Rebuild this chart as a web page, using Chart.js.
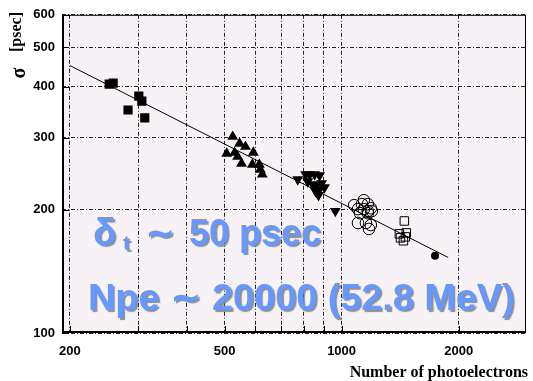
<!DOCTYPE html>
<html><head><meta charset="utf-8">
<script src="https://cdn.jsdelivr.net/npm/chart.js@4/dist/chart.umd.min.js"></script>
<style>html,body{margin:0;padding:0;background:#fff}canvas{display:block}</style>
</head><body>
<canvas id="c" width="533" height="381"></canvas>
<script>
// ---- data ----
const sqFilledX = [252.6, 258.6, 301, 306.4, 282.4, 311.8];
const sqFilledY = [405.9, 408.2, 379.6, 369.1, 351, 335.7];

const triUpX = [524.8, 546.6, 566, 593, 506.6, 530.8, 540.2, 553, 589.6, 614.4, 618, 625.2];
const triUpY = [302, 290.4, 285.5, 276.1, 274.6, 276, 270.1, 259.7, 258.2, 258.2, 251.1, 244.2];

const triDownX = [771.5, 808.7, 827.8, 852.3, 877.6, 818, 842.3, 862.2, 888, 903.6, 857, 872.3, 877.6, 963.4];
const triDownY = [237.5, 244.2, 244.2, 244.2, 242.8, 234.8, 230.9, 229.6, 232.3, 227.1, 222.2, 217.3, 224.6, 198.7];

const circOpenX = [1141, 1128, 1168, 1102, 1141, 1168, 1189, 1115, 1168, 1102, 1155, 1189, 1176, 1196, 1077];
const circOpenY = [211.2, 206.6, 206.6, 200.9, 200.9, 198.7, 201.9, 196.4, 196.4, 185.8, 185.8, 183.7, 179.7, 198.7, 205.4];

const sqOpenX = [1450, 1408, 1467, 1417, 1442, 1459];
const sqOpenY = [187.9, 174.8, 175.7, 170.9, 168.1, 171.8];

const circFilledX = [1739];
const circFilledY = [154.5];

const fitX = [200, 1880];
const fitY = [451, 153];

const xGrid = [200, 300, 400, 500, 600, 700, 800, 900, 1000, 2000];
const xLabels = [200, 500, 1000, 2000];
const yTicks = [100, 200, 300, 400, 500, 600];

const xTitle = 'Number of photoelectrons';
const yTitleSym = 'σ';
const yTitleUnit = '[psec]';
const note1 = ['δ', 't', '∼', '50 psec'];
const note2 = 'Npe ∼ 20000 (52.8 MeV)';

const pts = (xs, ys) => xs.map((x, i) => ({x: x, y: ys[i]}));

const bgPlugin = {
  id: 'bg',
  beforeDraw(chart) {
    const {ctx, chartArea: a} = chart;
    ctx.save();
    ctx.fillStyle = '#f6f2f6';
    ctx.fillRect(a.left, a.top, a.right - a.left, a.bottom - a.top);
    ctx.restore();
  },
  afterDraw(chart) {
    const {ctx, chartArea: a, scales} = chart;
    ctx.save();
    // frame
    ctx.strokeStyle = '#000';
    ctx.lineWidth = 1;
    ctx.strokeRect(a.left + 0.5, a.top + 0.5, a.right - a.left - 1, a.bottom - a.top - 1);
    ctx.lineWidth = 2;
    ctx.beginPath();
    ctx.moveTo(a.left + 1, a.top); ctx.lineTo(a.left + 1, a.bottom);
    ctx.moveTo(a.left, a.bottom - 1); ctx.lineTo(a.right, a.bottom - 1);
    ctx.stroke();
    // ticks
    ctx.lineWidth = 1;
    ctx.beginPath();
    yTicks.forEach(v => {
      const y = Math.round(scales.y.getPixelForValue(v)) + 0.5;
      ctx.moveTo(a.left, y); ctx.lineTo(a.left + 7, y);
    });
    xGrid.forEach(v => {
      const x = Math.round(scales.x.getPixelForValue(v)) + 0.5;
      ctx.moveTo(x, a.bottom); ctx.lineTo(x, a.bottom - 7);
    });
    ctx.stroke();

    // axis titles
    ctx.fillStyle = '#000';
    ctx.font = 'bold 16px "Liberation Serif", "DejaVu Serif", serif';
    ctx.textAlign = 'right';
    ctx.textBaseline = 'alphabetic';
    ctx.fillText(xTitle, 528, 377);
    ctx.save();
    ctx.translate(20, 12);
    ctx.rotate(-Math.PI / 2);
    ctx.textAlign = 'right';
    ctx.textBaseline = 'middle';
    ctx.font = 'bold 16px "Liberation Serif", "DejaVu Serif", serif';
    ctx.fillText(yTitleUnit, 0, -3);
    ctx.font = 'bold 20px "Liberation Serif", "DejaVu Serif", serif';
    ctx.textAlign = 'center';
    ctx.fillText(yTitleSym, -61, 0);
    ctx.restore();

    // annotation texts
    ctx.fillStyle = '#6699ff';
    ctx.shadowColor = 'rgba(110,110,110,0.75)';
    ctx.shadowOffsetX = 2;
    ctx.shadowOffsetY = 2;
    ctx.shadowBlur = 1;
    ctx.textAlign = 'left';
    ctx.textBaseline = 'alphabetic';
    const f = 'bold %spx "Liberation Sans", "DejaVu Sans", sans-serif';
    ctx.font = f.replace('%s', 38);
    ctx.fillText(note1[0], 93, 245);
    ctx.font = f.replace('%s', 21);
    ctx.fillText(note1[1], 123, 250);
    ctx.font = f.replace('%s', 36);
    ctx.fillText(note1[2], 145, 245);
    ctx.fillText(note1[3], 189, 245);
    ctx.font = f.replace('%s', 37.8);
    ctx.fillText(note2, 88, 310);
    ctx.restore();
  }
};

new Chart(document.getElementById('c'), {
  type: 'scatter',
  data: {
    datasets: [
      {data: pts(fitX, fitY), showLine: true, borderColor: '#000', borderWidth: 1, pointRadius: 0, order: 10},
      {data: pts(sqFilledX, sqFilledY), pointStyle: 'rect', pointRadius: 6.5, backgroundColor: '#000', borderColor: '#000', borderWidth: 0},
      {data: pts(triUpX, triUpY), pointStyle: 'triangle', pointRadius: 6.3, backgroundColor: '#000', borderColor: '#000', borderWidth: 0},
      {data: pts(triDownX, triDownY), pointStyle: 'triangle', rotation: 180, pointRadius: 6.3, backgroundColor: '#000', borderColor: '#000', borderWidth: 0},
      {data: pts(circOpenX, circOpenY), pointStyle: 'circle', pointRadius: 5.8, backgroundColor: 'rgba(0,0,0,0)', borderColor: '#000', borderWidth: 1},
      {data: pts(sqOpenX, sqOpenY), pointStyle: 'rect', pointRadius: 6, backgroundColor: 'rgba(0,0,0,0)', borderColor: '#000', borderWidth: 1},
      {data: pts(circFilledX, circFilledY), pointStyle: 'circle', pointRadius: 4, backgroundColor: '#000', borderColor: '#000', borderWidth: 0}
    ]
  },
  options: {
    responsive: false,
    animation: false,
    devicePixelRatio: 1,
    layout: {padding: {left: 0, right: 1, top: 12, bottom: 0}},
    plugins: {legend: {display: false}, tooltip: {enabled: false}},
    scales: {
      x: {
        type: 'logarithmic', min: 191, max: 2980,
        afterBuildTicks: s => { s.ticks = xGrid.map(v => ({value: v})); },
        afterFit: s => { s.height = 48; },
        ticks: {
          autoSkip: false, maxRotation: 0, padding: 11, color: '#000',
          font: {family: '"Liberation Sans", Arial, sans-serif', size: 13, weight: 'bold'},
          callback: v => xLabels.includes(v) ? String(v) : ''
        },
        grid: {color: 'rgba(0,0,0,0.85)', lineWidth: 1, drawTicks: false},
        border: {display: false, dash: [4, 2, 1, 2]}
      },
      y: {
        type: 'logarithmic', min: 100, max: 600,
        afterBuildTicks: s => { s.ticks = yTicks.map(v => ({value: v})); },
        afterFit: s => { s.width = 62; },
        ticks: {
          autoSkip: false, padding: 7, color: '#000',
          font: {family: '"Liberation Sans", Arial, sans-serif', size: 13, weight: 'bold'},
          callback: v => String(v)
        },
        grid: {color: 'rgba(0,0,0,0.85)', lineWidth: 1, drawTicks: false},
        border: {display: false, dash: [4, 2, 1, 2]}
      }
    }
  },
  plugins: [bgPlugin]
});
</script>
</body></html>
